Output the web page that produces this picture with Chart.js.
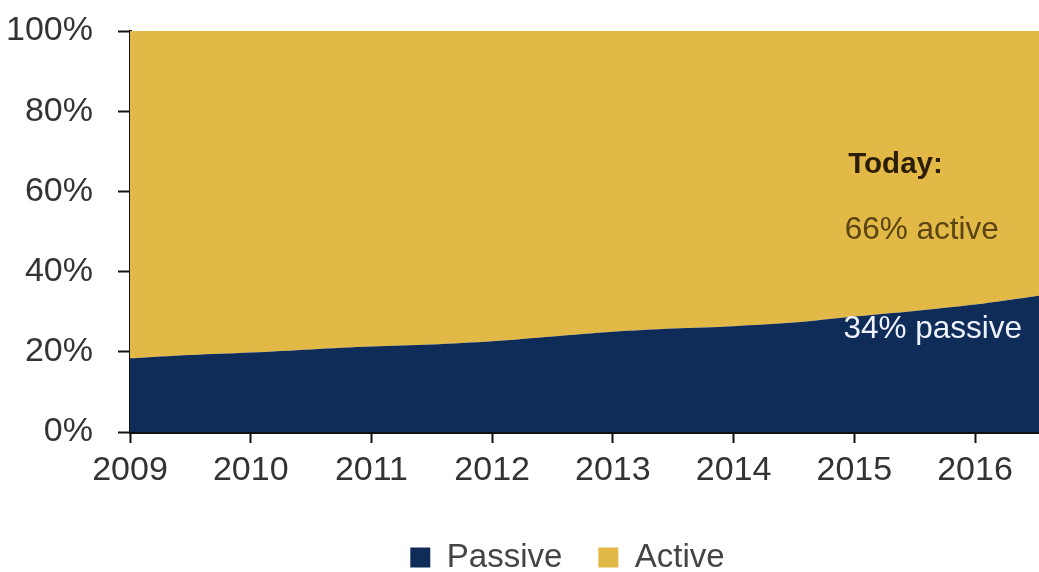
<!DOCTYPE html>
<html>
<head>
<meta charset="utf-8">
<script src="https://cdn.jsdelivr.net/npm/chart.js@4/dist/chart.umd.min.js"></script>
<style>
  html, body { margin: 0; padding: 0; background: #fff; }
  #wrap { width: 1039px; height: 572px; }
</style>
</head>
<body>
<div id="wrap"><canvas id="shareChart" width="1039" height="572"></canvas></div>
<script>
// time points (fractional years) and share of assets
const years   = [2009, 2009.25, 2009.5, 2009.75, 2010, 2010.5, 2011, 2011.5, 2012, 2012.5, 2013, 2013.5, 2014, 2014.5, 2015, 2015.5, 2016, 2016.53];
const passive = [18.3, 18.8, 19.2, 19.5, 19.8, 20.6, 21.3, 21.8, 22.6, 23.8, 25.0, 25.8, 26.4, 27.3, 28.8, 30.2, 31.8, 34.0];
const active  = [81.7, 81.2, 80.8, 80.5, 80.2, 79.4, 78.7, 78.2, 77.4, 76.2, 75.0, 74.2, 73.6, 72.7, 71.2, 69.8, 68.2, 66.0];

const yearTicks = [2009, 2010, 2011, 2012, 2013, 2014, 2015, 2016];
const pctTicks  = [0, 20, 40, 60, 80, 100];

// text notes, placed in data units
const notes = [
    { text: 'Today:',       x: 2014.95, y: 66.5, font: 'bold 29.5px "Liberation Sans", Arial', color: '#2b1d06' },
    { text: '66% active',   x: 2014.92, y: 50.3, font: '31.5px "Liberation Sans", Arial',      color: '#5a4512' },
    { text: '34% passive',  x: 2014.91, y: 25.6, font: '31.5px "Liberation Sans", Arial',      color: '#eef2fa' }
];

const NAVY = '#0f2b57';
const GOLD = '#e2b846';
const tickFont = { family: '"Liberation Sans", Arial', size: 34 };

const notesPlugin = {
    id: 'notes',
    afterDatasetsDraw(chart) {
        const { ctx, scales } = chart;
        ctx.save();
        ctx.textBaseline = 'middle';
        ctx.textAlign = 'left';
        notes.forEach(n => {
            ctx.font = n.font;
            ctx.fillStyle = n.color;
            ctx.fillText(n.text, scales.x.getPixelForValue(n.x), scales.y.getPixelForValue(n.y));
        });
        ctx.restore();
    }
};

// the legend in the source sits a bit right of centre and low
const legendNudge = {
    id: 'legendNudge',
    afterLayout(chart) {
        const lg = chart.legend;
        if (!lg) return;
        lg.left += 48; lg.right += 48;
        lg.top += 12; lg.bottom += 12;
    }
};

const ctx = document.getElementById('shareChart').getContext('2d');
new Chart(ctx, {
    type: 'line',
    data: {
        datasets: [{
            label: 'Passive',
            data: years.map((x, i) => ({ x: x, y: passive[i] })),
            backgroundColor: NAVY,
            borderColor: NAVY,
            borderWidth: 0,
            fill: 'origin',
            pointRadius: 0,
            tension: 0.3
        }, {
            label: 'Active',
            data: years.map((x, i) => ({ x: x, y: active[i] })),
            backgroundColor: GOLD,
            borderColor: GOLD,
            borderWidth: 0,
            fill: '-1',
            pointRadius: 0,
            tension: 0.3
        }]
    },
    options: {
        responsive: false,
        animation: false,
        layout: { padding: { top: 31, left: 0, right: 0, bottom: 0 } },
        plugins: {
            tooltip: { enabled: false },
            legend: {
                position: 'bottom',
                labels: {
                    boxWidth: 20,
                    boxHeight: 20,
                    padding: 36,
                    color: '#444',
                    font: { family: '"Liberation Sans", Arial', size: 33 }
                }
            }
        },
        scales: {
            x: {
                type: 'linear',
                min: 2009,
                max: 2016.53,
                afterBuildTicks: s => { s.ticks = yearTicks.map(v => ({ value: v })); },
                afterFit: s => { s.height = 61; },
                grid: { drawOnChartArea: false, drawTicks: true, tickLength: 11, tickColor: '#111', tickWidth: 2 },
                border: { display: true, color: '#111', width: 3 },
                ticks: {
                    color: '#333',
                    font: tickFont,
                    padding: 7,
                    maxRotation: 0,
                    callback: v => String(v)
                }
            },
            y: {
                stacked: true,
                min: 0,
                max: 100,
                afterBuildTicks: s => { s.ticks = pctTicks.map(v => ({ value: v })); },
                afterFit: s => { s.width = 130; s.paddingTop = 0; s.paddingBottom = 0; },
                grid: {
                    drawOnChartArea: true,
                    drawTicks: true,
                    tickLength: 12,
                    tickColor: '#111',
                    tickWidth: 2,
                    color: c => c.tick && c.tick.value === 100 ? 'rgba(120,110,90,0.45)' : 'rgba(0,0,0,0)'
                },
                border: { display: true, color: '#111', width: 3 },
                ticks: {
                    color: '#333',
                    font: tickFont,
                    padding: 25,
                    callback: v => v + '%'
                }
            }
        }
    },
    plugins: [notesPlugin, legendNudge]
});
</script>
</body>
</html>
